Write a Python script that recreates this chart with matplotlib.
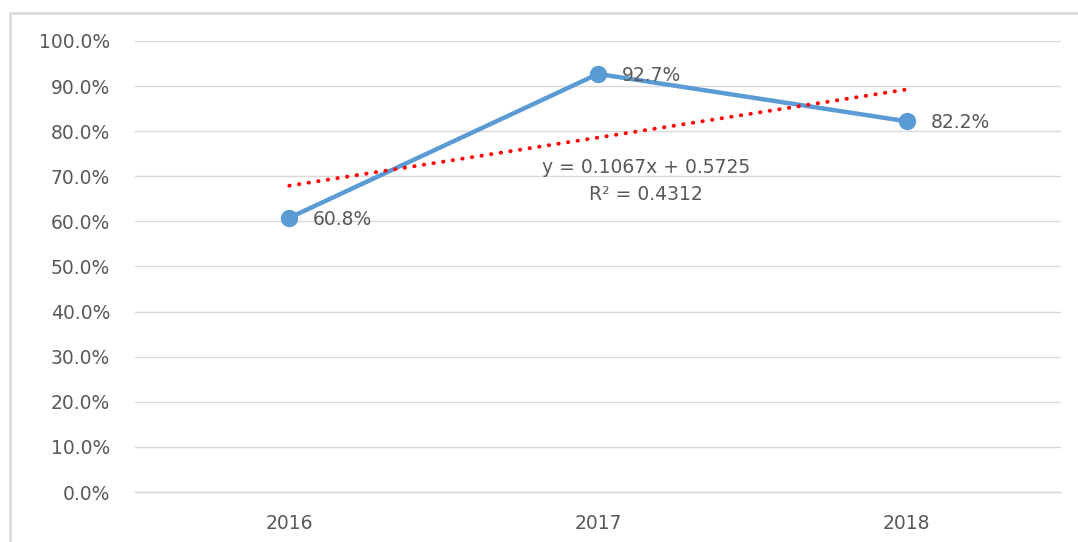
import matplotlib
matplotlib.use("Agg")
import matplotlib.pyplot as plt
from matplotlib.patches import Rectangle
from matplotlib.ticker import FuncFormatter, MultipleLocator
import numpy as np

years = ["2016", "2017", "2018"]
rates = [0.608, 0.927, 0.822]
labels = ["60.8%", "92.7%", "82.2%"]
slope = 0.1067
intercept = 0.5725
r2 = 0.4312

plt.rcParams['font.family'] = ['DejaVu Sans']
txt = '#595959'
fs = 13.5

fig = plt.figure(figsize=(10.78, 5.42), dpi=100)
fig.patches.append(Rectangle((10/1078, -0.2), 1.2, (542-13)/542 + 0.2,
                             transform=fig.transFigure, fill=False,
                             edgecolor='#d9d9d9', lw=1.8))
ax = fig.add_axes([135/1078, 50/542, 926/1078, 451/542])

x = np.arange(len(years))
ax.plot(x, rates, color='#5B9BD5', lw=3.2, marker='o', markersize=11.5,
        solid_capstyle='round', solid_joinstyle='round', zorder=3)

xt = np.array([x[0], x[-1]])
yt = slope * (xt + 1) + intercept
ax.plot(xt, yt, color='#FF0000', lw=2.8, linestyle=(0, (0.1, 2.4)),
        dash_capstyle='round', zorder=4)

for xi, yi, lab in zip(x, rates, labels):
    ax.annotate(lab, (xi, yi), xytext=(17, -1), textcoords='offset points',
                ha='left', va='center', fontsize=fs, color=txt)

ax.text(1.155, 0.720, f"y = {slope}x + {intercept}", ha='center', va='center',
        fontsize=fs, color=txt)
ax.text(1.155, 0.659, f"R² = {r2}", ha='center', va='center',
        fontsize=fs, color=txt)

ax.set_xlim(-0.5, 2.5)
ax.set_ylim(0, 1.0)
ax.yaxis.set_major_locator(MultipleLocator(0.1))
ax.yaxis.set_major_formatter(FuncFormatter(lambda v, p: f"{v*100:.1f}%"))
ax.set_xticks(x)
ax.set_xticklabels(years)
ax.grid(axis='y', color='#d9d9d9', lw=1)
ax.set_axisbelow(True)
for s in ['top', 'right', 'left']:
    ax.spines[s].set_visible(False)
ax.spines['bottom'].set_color('#d9d9d9')
ax.spines['bottom'].set_linewidth(1)
ax.tick_params(axis='both', length=0, labelsize=fs, colors=txt)
ax.tick_params(axis='y', pad=18)
ax.tick_params(axis='x', pad=16)

fig.savefig("out.png", dpi=100)
